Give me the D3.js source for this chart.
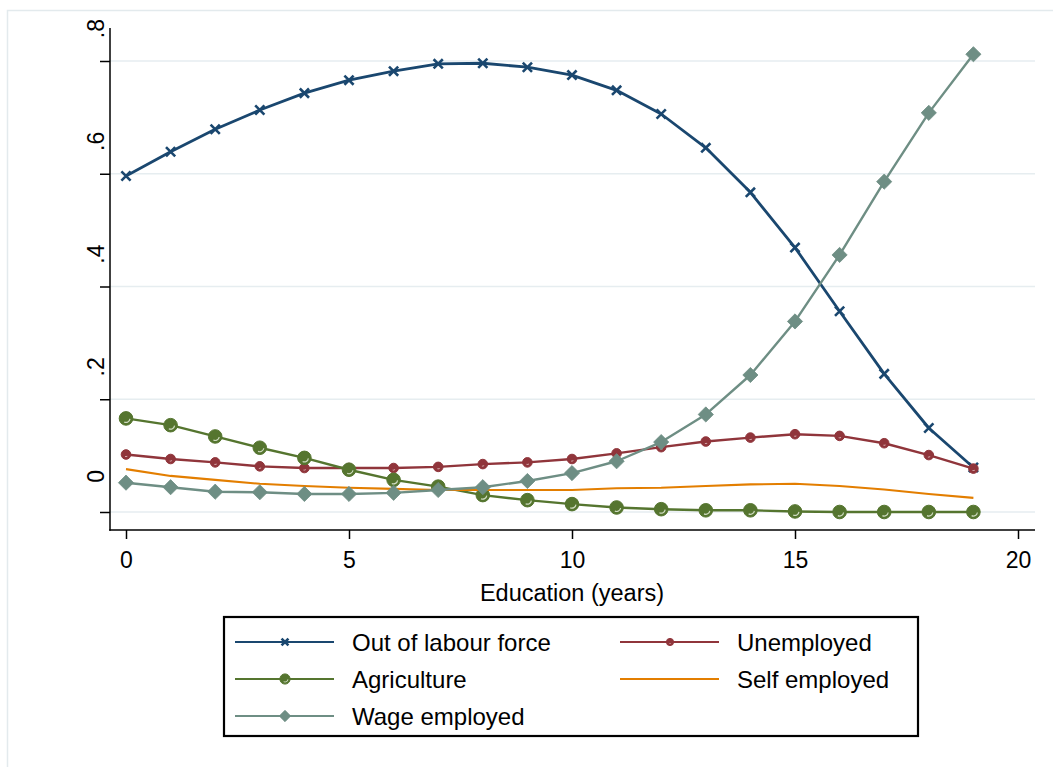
<!DOCTYPE html>
<html>
<head>
<meta charset="utf-8">
<script src="https://cdn.jsdelivr.net/npm/d3@7/dist/d3.min.js"></script>
<style>
  html, body { margin: 0; padding: 0; background: #ffffff; }
  svg { display: block; }
  text { font-family: "Liberation Sans", Arial, Helvetica, sans-serif; fill: #000; }
</style>
</head>
<body>
<svg id="chart" width="1053" height="767"></svg>
<script>
// Years of education (x) and predicted shares for each labour-market status
const years = d3.range(0, 20);

const outOfLabourForce = [0.596, 0.639, 0.679, 0.713, 0.743, 0.766, 0.782, 0.795, 0.796, 0.789,
                          0.775, 0.748, 0.706, 0.646, 0.567, 0.469, 0.356, 0.245, 0.149, 0.079];
const unemployed       = [0.102, 0.094, 0.088, 0.081, 0.078, 0.078, 0.078, 0.080, 0.085, 0.088,
                          0.094, 0.104, 0.115, 0.125, 0.132, 0.138, 0.135, 0.122, 0.101, 0.077];
const agriculture      = [0.166, 0.154, 0.134, 0.114, 0.096, 0.075, 0.057, 0.045, 0.030, 0.021,
                          0.014, 0.008, 0.005, 0.003, 0.003, 0.001, 0.000, 0.000, 0.000, 0.000];
const selfEmployed     = [0.076, 0.064, 0.057, 0.050, 0.046, 0.043, 0.041, 0.039, 0.039, 0.039,
                          0.039, 0.042, 0.043, 0.046, 0.049, 0.050, 0.046, 0.040, 0.032, 0.025];
const wageEmployed     = [0.052, 0.044, 0.036, 0.035, 0.032, 0.032, 0.034, 0.039, 0.044, 0.055,
                          0.069, 0.090, 0.124, 0.173, 0.243, 0.338, 0.456, 0.586, 0.708, 0.812];

const seriesNames = ["Out of labour force", "Unemployed", "Agriculture", "Self employed", "Wage employed"];
const xTicks = [0, 5, 10, 15, 20];
const yTicks = [0, 0.2, 0.4, 0.6, 0.8];
const yTickLabels = ["0", ".2", ".4", ".6", ".8"];
const xTitle = "Education (years)";

const seriesValues = [outOfLabourForce, unemployed, agriculture, selfEmployed, wageEmployed];
const seriesStyle = [
  { color: "#1a476f", width: 2.8, marker: "x" },
  { color: "#90353b", width: 2.4, marker: "smallcircle" },
  { color: "#55752f", width: 2.4, marker: "circle" },
  { color: "#e37e00", width: 2.1, marker: "none" },
  { color: "#6e8e84", width: 2.4, marker: "diamond" }
];

const svg = d3.select("#chart");

// Plot region
const plot = { left: 110, right: 1035, top: 28, bottom: 530 };
const x = d3.scaleLinear().domain([0, 20]).range([126, 1018]);
const y = d3.scaleLinear().domain([0, 0.8]).range([512, 61]);

// Outer graph frame
svg.append("rect")
  .attr("x", 7.5).attr("y", 10.5)
  .attr("width", 1100).attr("height", 800)
  .attr("fill", "none").attr("stroke", "#e3eaed").attr("stroke-width", 1.5);

// Horizontal grid lines
svg.append("g").selectAll("line")
  .data(yTicks)
  .join("line")
  .attr("x1", plot.left).attr("x2", plot.right)
  .attr("y1", d => y(d)).attr("y2", d => y(d))
  .attr("stroke", "#e6edf0").attr("stroke-width", 1.5);

// Y axis
const yAxis = svg.append("g")
  .attr("transform", `translate(${plot.left},0)`)
  .call(d3.axisLeft(y).tickValues(yTicks).tickSize(10).tickFormat(""));
yAxis.select(".domain").remove();
yAxis.selectAll(".tick line").attr("stroke", "#000").attr("stroke-width", 1.5);
svg.append("line")
  .attr("x1", plot.left).attr("x2", plot.left)
  .attr("y1", plot.top).attr("y2", plot.bottom + 0.75)
  .attr("stroke", "#000").attr("stroke-width", 1.5);

svg.append("g").selectAll("text")
  .data(yTicks)
  .join("text")
  .attr("transform", d => `translate(96,${y(d) - 42}) rotate(-90)`)
  .attr("text-anchor", "end")
  .attr("dy", "0.36em")
  .attr("font-size", 23)
  .text((d, i) => yTickLabels[i]);

// X axis
const xAxis = svg.append("g")
  .attr("transform", `translate(0,${plot.bottom})`)
  .call(d3.axisBottom(x).tickValues(xTicks).tickSize(9).tickPadding(13).tickFormat(d3.format("d")));
xAxis.select(".domain").remove();
xAxis.selectAll(".tick line").attr("stroke", "#000").attr("stroke-width", 1.5);
xAxis.selectAll(".tick text")
  .attr("font-size", 23)
  .attr("font-family", "'Liberation Sans', Arial, sans-serif")
  .attr("fill", "#000");
svg.append("line")
  .attr("x1", plot.left - 0.75).attr("x2", plot.right)
  .attr("y1", plot.bottom).attr("y2", plot.bottom)
  .attr("stroke", "#000").attr("stroke-width", 1.5);

svg.append("text")
  .attr("x", x(10)).attr("y", 601)
  .attr("text-anchor", "middle")
  .attr("font-size", 23.5)
  .text(xTitle);

// Marker drawing
function drawMarker(g, type, color, scale) {
  const s = scale;
  if (type === "x") {
    g.append("path")
      .attr("d", `M${-4.6 * s},${-4.6 * s}L${4.6 * s},${4.6 * s}M${4.6 * s},${-4.6 * s}L${-4.6 * s},${4.6 * s}`)
      .attr("stroke", color).attr("stroke-width", 2.6).attr("fill", "none");
  } else if (type === "smallcircle") {
    g.append("circle").attr("r", 4.8 * s).attr("fill", color).attr("stroke", color).attr("stroke-width", 1);
    g.append("path")
      .attr("d", d3.arc()({ innerRadius: 1.6 * s, outerRadius: 2.4 * s, startAngle: 2.4, endAngle: 3.6 }))
      .attr("fill", "#f1d9da").attr("opacity", 0.8);
  } else if (type === "circle") {
    g.append("circle").attr("r", 6.8 * s).attr("fill", color).attr("stroke", color).attr("stroke-width", 1);
    g.append("path")
      .attr("d", d3.arc()({ innerRadius: 3.4 * s, outerRadius: 4.6 * s, startAngle: 1.7, endAngle: 3.6 }))
      .attr("fill", "#e4ecd9").attr("opacity", 0.85);
  } else if (type === "diamond") {
    const r = 7.6 * s;
    g.append("path")
      .attr("d", `M0,${-r}L${r},0L0,${r}L${-r},0Z`)
      .attr("fill", color).attr("stroke", color).attr("stroke-width", 0.8);
  }
}

// Series lines and markers
const line = d3.line().x((d, i) => x(years[i])).y(d => y(d));
seriesValues.forEach((vals, k) => {
  const st = seriesStyle[k];
  const g = svg.append("g");
  g.append("path")
    .datum(vals)
    .attr("d", line)
    .attr("fill", "none")
    .attr("stroke", st.color)
    .attr("stroke-width", st.width)
    .attr("stroke-linejoin", "round");
  if (st.marker !== "none") {
    vals.forEach((v, i) => {
      const m = g.append("g").attr("transform", `translate(${x(years[i])},${y(v)})`);
      drawMarker(m, st.marker, st.color, 1);
    });
  }
});

// Legend
const legend = svg.append("g");
legend.append("rect")
  .attr("x", 224).attr("y", 617)
  .attr("width", 694).attr("height", 119)
  .attr("fill", "#fff").attr("stroke", "#000").attr("stroke-width", 2.2);

const legendPos = [
  { lx: 235, ly: 642 }, { lx: 620, ly: 642 },
  { lx: 235, ly: 679 }, { lx: 620, ly: 679 },
  { lx: 235, ly: 716 }
];
seriesNames.forEach((name, k) => {
  const p = legendPos[k];
  const st = seriesStyle[k];
  const g = legend.append("g");
  g.append("line")
    .attr("x1", p.lx).attr("x2", p.lx + 99)
    .attr("y1", p.ly).attr("y2", p.ly)
    .attr("stroke", st.color).attr("stroke-width", 2);
  if (st.marker !== "none") {
    const m = g.append("g").attr("transform", `translate(${p.lx + 50},${p.ly})`);
    drawMarker(m, st.marker, st.color, 0.75);
  }
  g.append("text")
    .attr("x", p.lx + 117).attr("y", p.ly)
    .attr("dy", "0.36em")
    .attr("font-size", 24)
    .text(name);
});
</script>
</body>
</html>
